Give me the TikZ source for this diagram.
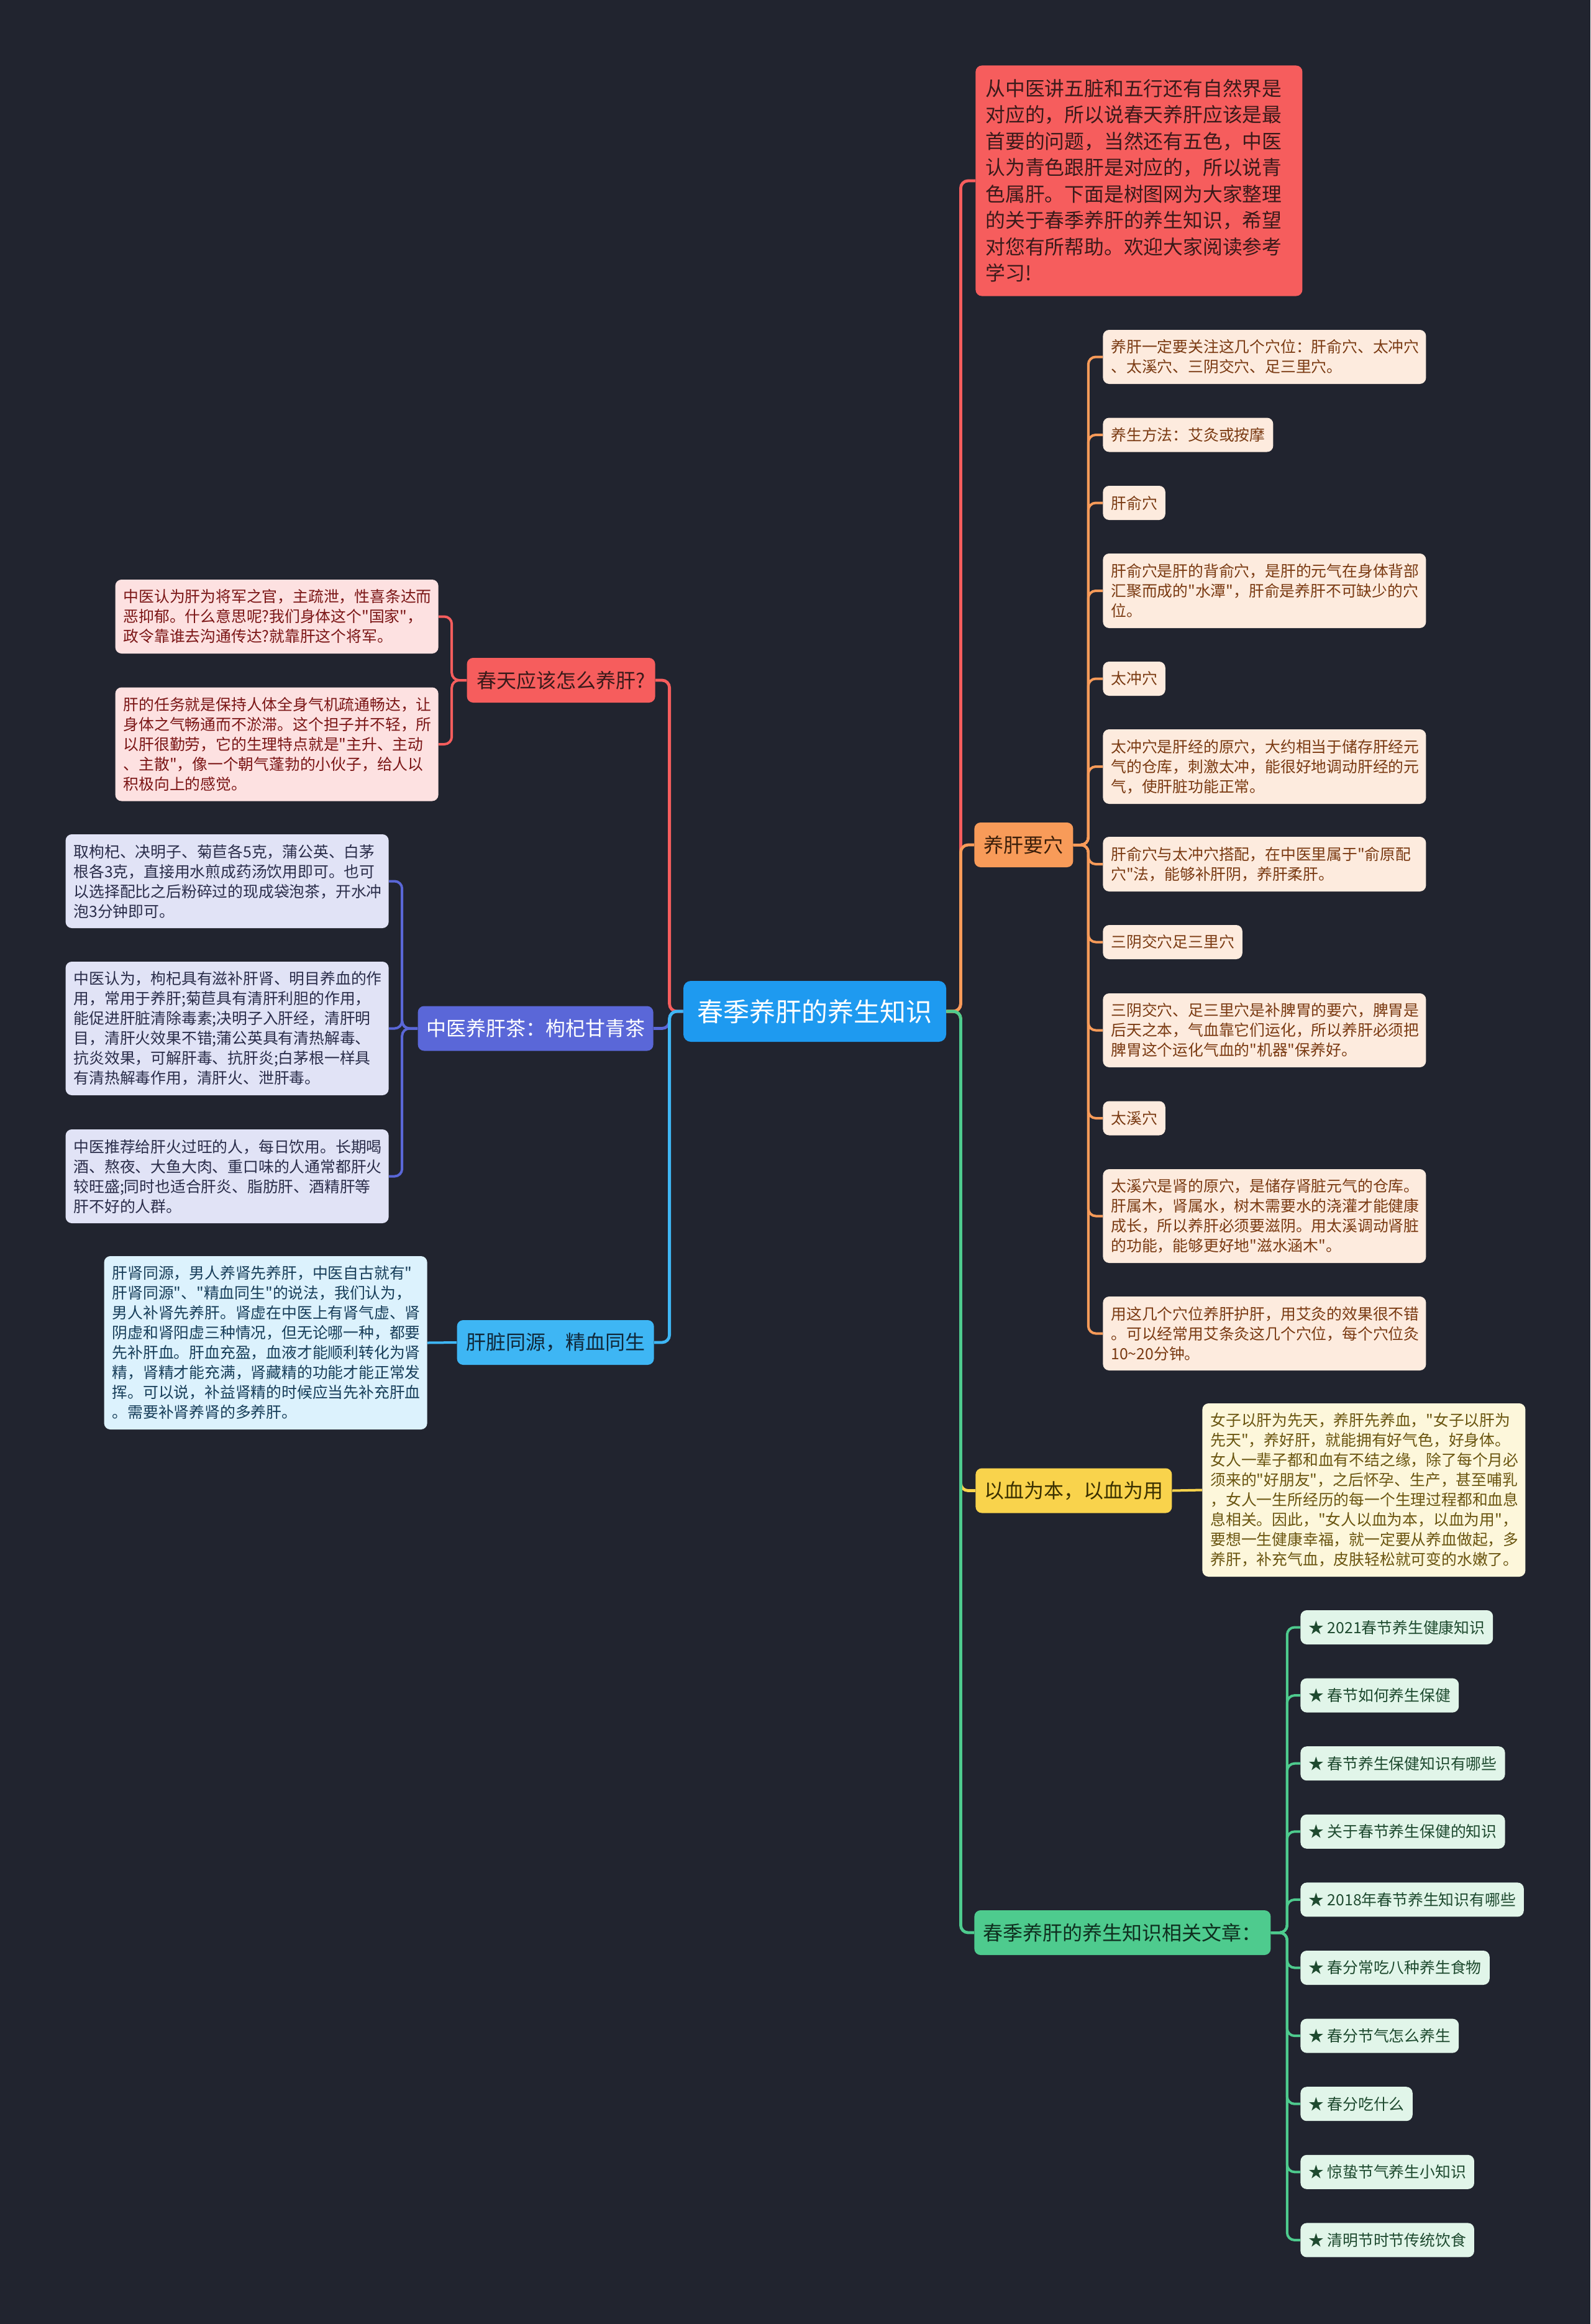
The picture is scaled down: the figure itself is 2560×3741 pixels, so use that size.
\documentclass[tikz,border=0pt]{standalone}
\usepackage{fontspec}
\setmainfont{Noto Sans CJK SC}[Ligatures=TeXOff]
\definecolor{cBg}{HTML}{21242F}
\definecolor{cCenter}{HTML}{1E9AF0}
\definecolor{cRed}{HTML}{F65D5D}
\definecolor{cRedT}{HTML}{3A1A1A}
\definecolor{cRedSub}{HTML}{FDE1E1}
\definecolor{cRedSubT}{HTML}{7B1616}
\definecolor{cViolet}{HTML}{5A67D8}
\definecolor{cVioletSub}{HTML}{E1E3F6}
\definecolor{cVioletSubT}{HTML}{2A2D4A}
\definecolor{cLBlue}{HTML}{3EB6F4}
\definecolor{cLBlueT}{HTML}{10283A}
\definecolor{cLBlueSub}{HTML}{DCF2FD}
\definecolor{cLBlueSubT}{HTML}{173E5A}
\definecolor{cOrange}{HTML}{F89B59}
\definecolor{cOrangeT}{HTML}{3A1E0A}
\definecolor{cOrangeSub}{HTML}{FDEBDE}
\definecolor{cOrangeSubT}{HTML}{7A3A12}
\definecolor{cYellow}{HTML}{F9D34C}
\definecolor{cYellowT}{HTML}{3A3000}
\definecolor{cYellowSub}{HTML}{FDF7DB}
\definecolor{cYellowSubT}{HTML}{6A5510}
\definecolor{cGreen}{HTML}{4ECB8E}
\definecolor{cGreenT}{HTML}{0F2F1F}
\definecolor{cGreenSub}{HTML}{E1F5E9}
\definecolor{cGreenSubT}{HTML}{1E4A2F}
\begin{document}
\begin{tikzpicture}[x=0.5pt,y=-0.5pt,
  lone/.style={rounded corners=5pt, inner xsep=0pt, inner ysep=0pt, minimum height=36pt,
    font=\fontsize{16pt}{20pt}\selectfont},
  sub/.style={rounded corners=5pt, inner xsep=6.5pt, inner ysep=0pt,
    font=\fontsize{12.4pt}{16pt}\selectfont, align=left},
  subw/.style={sub, text width=247pt},
  rsub/.style={sub, fill=cRedSub, text=cRedSubT},
  vsub/.style={sub, fill=cVioletSub, text=cVioletSubT},
  bsub/.style={sub, fill=cLBlueSub, text=cLBlueSubT},
  osub/.style={sub, fill=cOrangeSub, text=cOrangeSubT},
  ysub/.style={sub, fill=cYellowSub, text=cYellowSubT},
  gsub/.style={sub, fill=cGreenSub, text=cGreenSubT, minimum height=27.5pt},
  edge/.style={line width=2.4pt, rounded corners=6pt},
  subedge/.style={line width=2pt, rounded corners=6pt}
]
\useasboundingbox (0,0) rectangle (2560,3741);
\fill[cBg] (0,0) rectangle (2560,3741);

% ---------- root ----------
\node[fill=cCenter, text=white, minimum width=211.5pt, minimum height=49pt, inner sep=0pt,
  rounded corners=6pt, font=\fontsize{21pt}{25pt}\selectfont] (root) at (1311.5,1628) {春季养肝的养生知识};

% ---------- right level 1 ----------
\node[fill=cRed, text=cRedT, rounded corners=5pt, anchor=west, text width=247pt, inner xsep=8pt,
  inner ysep=0pt, minimum height=185.5pt, align=left, font=\fontsize{15.9pt}{21.25pt}\selectfont]
  (intro) at (1570,291) {从中医讲五脏和五行还有自然界是\\对应的，所以说春天养肝应该是最\\首要的问题，当然还有五色，中医\\认为青色跟肝是对应的，所以说青\\色属肝。下面是树图网为大家整理\\的关于春季养肝的养生知识，希望\\对您有所帮助。欢迎大家阅读参考\\学习!};
\node[lone, fill=cOrange, text=cOrangeT, minimum width=79.5pt, anchor=west] (yaoxue) at (1568,1360) {养肝要穴};
\node[lone, fill=cYellow, text=cYellowT, minimum width=158pt, anchor=west] (xue) at (1570,2399.5) {以血为本，以血为用};
\node[lone, fill=cGreen, text=cGreenT, minimum width=238.5pt, anchor=west] (wz) at (1568,3111) {春季养肝的养生知识相关文章：};

% ---------- left level 1 ----------
\node[lone, fill=cRed, text=cRedT, minimum width=151.5pt, anchor=east] (chuntian) at (1055,1095) {春天应该怎么养肝?};
\node[lone, fill=cViolet, text=white, minimum width=189.5pt, anchor=east] (cha) at (1052,1655.5) {中医养肝茶：枸杞甘青茶};
\node[lone, fill=cLBlue, text=cLBlueT, minimum width=158.5pt, anchor=east] (tongyuan) at (1053,2161) {肝脏同源，精血同生};

% ---------- orange children ----------
\node[osub, subw, minimum height=43.5pt, anchor=west] (o1) at (1775,574.5) {养肝一定要关注这几个穴位：肝俞穴、太冲穴\\、太溪穴、三阴交穴、足三里穴。};
\node[osub, minimum width=136pt, minimum height=27.5pt, anchor=west] (o2) at (1775,700) {养生方法：艾灸或按摩};
\node[osub, minimum width=49.5pt, minimum height=27.5pt, anchor=west] (o3) at (1775,809.5) {肝俞穴};
\node[osub, subw, minimum height=60pt, anchor=west] (o4) at (1775,951) {肝俞穴是肝的背俞穴，是肝的元气在身体背部\\汇聚而成的"水潭"，肝俞是养肝不可缺少的穴\\位。};
\node[osub, minimum width=49.5pt, minimum height=27.5pt, anchor=west] (o5) at (1775,1092.5) {太冲穴};
\node[osub, subw, minimum height=60pt, anchor=west] (o6) at (1775,1234) {太冲穴是肝经的原穴，大约相当于储存肝经元\\气的仓库，刺激太冲，能很好地调动肝经的元\\气，使肝脏功能正常。};
\node[osub, subw, minimum height=44pt, anchor=west] (o7) at (1775,1391) {肝俞穴与太冲穴搭配，在中医里属于"俞原配\\穴"法，能够补肝阴，养肝柔肝。};
\node[osub, minimum width=110.5pt, minimum height=27.5pt, anchor=west] (o8) at (1775,1516.5) {三阴交穴足三里穴};
\node[osub, subw, minimum height=59.5pt, anchor=west] (o9) at (1775,1658.5) {三阴交穴、足三里穴是补脾胃的要穴，脾胃是\\后天之本，气血靠它们运化，所以养肝必须把\\脾胃这个运化气血的"机器"保养好。};
\node[osub, minimum width=49.5pt, minimum height=27.5pt, anchor=west] (o10) at (1775,1800) {太溪穴};
\node[osub, subw, minimum height=75.5pt, anchor=west] (o11) at (1775,1957.5) {太溪穴是肾的原穴，是储存肾脏元气的仓库。\\肝属木，肾属水，树木需要水的浇灌才能健康\\成长，所以养肝必须要滋阴。用太溪调动肾脏\\的功能，能够更好地"滋水涵木"。};
\node[osub, subw, minimum height=59.5pt, anchor=west] (o12) at (1775,2146.5) {用这几个穴位养肝护肝，用艾灸的效果很不错\\。可以经常用艾条灸这几个穴位，每个穴位灸\\10\textasciitilde20分钟。};

% ---------- yellow child ----------
\node[ysub, subw, minimum height=139.5pt, anchor=west] (y1) at (1935,2398.5) {女子以肝为先天，养肝先养血，"女子以肝为\\先天"，养好肝，就能拥有好气色，好身体。\\女人一辈子都和血有不结之缘，除了每个月必\\须来的"好朋友"，之后怀孕、生产，甚至哺乳\\，女人一生所经历的每一个生理过程都和血息\\息相关。因此，"女人以血为本，以血为用"，\\要想一生健康幸福，就一定要从养血做起，多\\养肝，补充气血，皮肤轻松就可变的水嫩了。};

% ---------- green children ----------
\node[gsub, minimum width=154.5pt, anchor=west] (g1) at (2093,2619.5) {★ 2021春节养生健康知识};
\node[gsub, minimum width=125pt, anchor=west] (g2) at (2093,2729.1) {★ 春节如何养生保健};
\node[gsub, minimum width=162pt, anchor=west] (g3) at (2093,2838.7) {★ 春节养生保健知识有哪些};
\node[gsub, minimum width=162pt, anchor=west] (g4) at (2093,2948.3) {★ 关于春节养生保健的知识};
\node[gsub, minimum width=179pt, anchor=west] (g5) at (2093,3057.9) {★ 2018年春节养生知识有哪些};
\node[gsub, minimum width=150pt, anchor=west] (g6) at (2093,3167.5) {★ 春分常吃八种养生食物};
\node[gsub, minimum width=125pt, anchor=west] (g7) at (2093,3277.1) {★ 春分节气怎么养生};
\node[gsub, minimum width=88pt, anchor=west] (g8) at (2093,3386.7) {★ 春分吃什么};
\node[gsub, minimum width=137.5pt, anchor=west] (g9) at (2093,3496.3) {★ 惊蛰节气养生小知识};
\node[gsub, minimum width=137.5pt, anchor=west] (g10) at (2093,3605.9) {★ 清明节时节传统饮食};

% ---------- left children ----------
\node[rsub, subw, minimum height=59.5pt, anchor=east] (r1) at (706,992.5) {中医认为肝为将军之官，主疏泄，性喜条达而\\恶抑郁。什么意思呢?我们身体这个"国家"，\\政令靠谁去沟通传达?就靠肝这个将军。};
\node[rsub, subw, minimum height=91.5pt, anchor=east] (r2) at (706,1198) {肝的任务就是保持人体全身气机疏通畅达，让\\身体之气畅通而不淤滞。这个担子并不轻，所\\以肝很勤劳，它的生理特点就是"主升、主动\\、主散"，像一个朝气蓬勃的小伙子，给人以\\积极向上的感觉。};
\node[vsub, subw, minimum height=75.5pt, anchor=east] (v1) at (626,1418.5) {取枸杞、决明子、菊苣各5克，蒲公英、白茅\\根各3克，直接用水煎成药汤饮用即可。也可\\以选择配比之后粉碎过的现成袋泡茶，开水冲\\泡3分钟即可。};
\node[vsub, subw, minimum height=107.5pt, anchor=east] (v2) at (626,1655.5) {中医认为，枸杞具有滋补肝肾、明目养血的作\\用，常用于养肝;菊苣具有清肝利胆的作用，\\能促进肝脏清除毒素;决明子入肝经，清肝明\\目，清肝火效果不错;蒲公英具有清热解毒、\\抗炎效果，可解肝毒、抗肝炎;白茅根一样具\\有清热解毒作用，清肝火、泄肝毒。};
\node[vsub, subw, minimum height=75.5pt, anchor=east] (v3) at (626,1893.5) {中医推荐给肝火过旺的人，每日饮用。长期喝\\酒、熬夜、大鱼大肉、重口味的人通常都肝火\\较旺盛;同时也适合肝炎、脂肪肝、酒精肝等\\肝不好的人群。};
\node[bsub, subw, minimum height=139.5pt, anchor=east] (b1) at (688,2161.5) {肝肾同源，男人养肾先养肝，中医自古就有"\\肝肾同源"、"精血同生"的说法，我们认为，\\男人补肾先养肝。肾虚在中医上有肾气虚、肾\\阴虚和肾阳虚三种情况，但无论哪一种，都要\\先补肝血。肝血充盈，血液才能顺利转化为肾\\精，肾精才能充满，肾藏精的功能才能正常发\\挥。可以说，补益肾精的时候应当先补充肝血\\。需要补肾养肾的多养肝。};

% ---------- connectors: root ----------
\draw[edge, cRed] (root.east) -- ++(23,0) |- (intro.west);
\draw[edge, cOrange] (root.east) -- ++(23,0) |- (yaoxue.west);
\draw[edge, cYellow] (root.east) -- ++(23,0) |- (xue.west);
\draw[edge, cGreen] (root.east) -- ++(23,0) |- (wz.west);
\draw[edge, cRed] (root.west) -- ++(-22,0) |- (chuntian.east);
\draw[edge, cViolet] (root.west) -- ++(-22,0) |- (cha.east);
\draw[edge, cLBlue] (root.west) -- ++(-22,0) |- (tongyuan.east);

% ---------- connectors: level 2 ----------
\foreach \c in {o1,o2,o3,o4,o5,o6,o7,o8,o9,o10,o11,o12}
  \draw[subedge, cOrange] (yaoxue.east) -- ++(24,0) |- (\c.west);
\draw[subedge, cYellow] (xue.east) -- (y1.west);
\foreach \c in {g1,g2,g3,g4,g5,g6,g7,g8,g9,g10}
  \draw[subedge, cGreen] (wz.east) -- ++(26,0) |- (\c.west);
\foreach \c in {r1,r2}
  \draw[subedge, cRed] (chuntian.west) -- ++(-24,0) |- (\c.east);
\foreach \c in {v1,v2,v3}
  \draw[subedge, cViolet] (cha.west) -- ++(-25,0) |- (\c.east);
\draw[subedge, cLBlue] (tongyuan.west) -- (b1.east);
\end{tikzpicture}
\end{document}
